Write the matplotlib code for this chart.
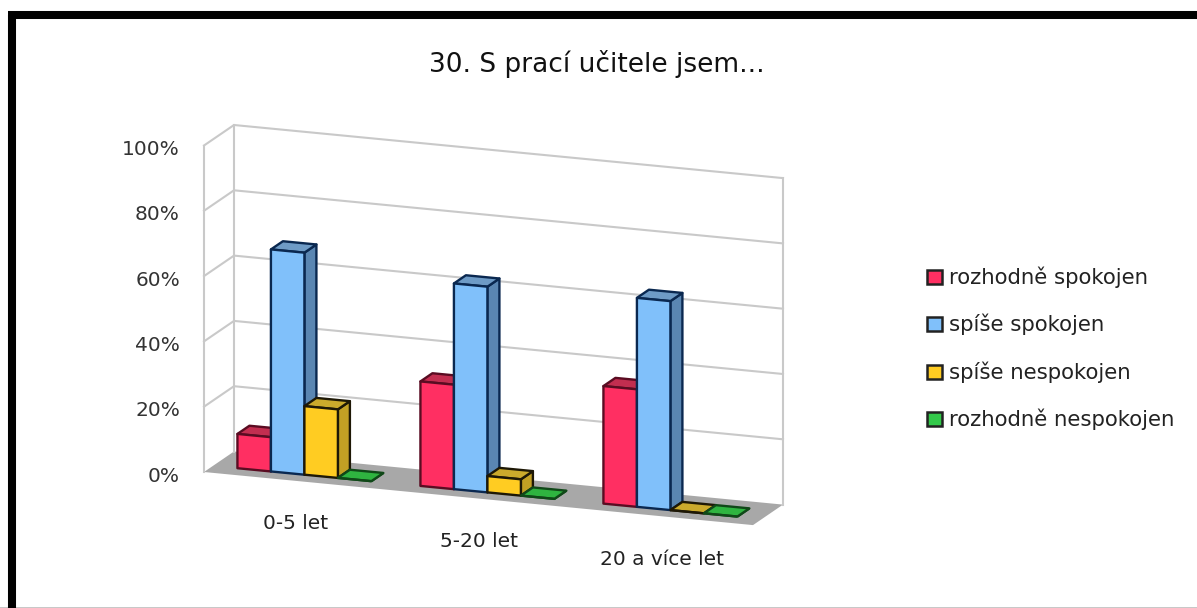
import matplotlib
matplotlib.use('Agg')
import matplotlib.pyplot as plt
from matplotlib.patches import Polygon, Rectangle

title = '30. S prací učitele jsem...'
categories = ['0-5 let', '5-20 let', '20 a více let']
series_names = ['rozhodně spokojen', 'spíše spokojen', 'spíše nespokojen', 'rozhodně nespokojen']
rozhodne_spokojen = [10.5, 32, 36]
spise_spokojen = [68, 63, 64]
spise_nespokojen = [21, 5, 0]
rozhodne_nespokojen = [0, 0, 0]
ticks = [0, 20, 40, 60, 80, 100]

series = [rozhodne_spokojen, spise_spokojen, spise_nespokojen, rozhodne_nespokojen]

# front, side, top
colors = [('#FF2F62', '#C42A4C', '#C22E50'),
          ('#80C0FA', '#5A86B2', '#6E9BC6'),
          ('#FFCC22', '#C2A024', '#CBAA2C'),
          ('#33C94A', '#2FA53C', '#2FB440')]
edges = ['#5A0C22', '#0A2850', '#1E1806', '#104818']


def project(u, d, v):
    # category position u, depth d (0 front, 1 back), value v -> image pixels
    x = 204 + u * 183 + d * 30
    y = 472 + u * 17.7 - d * 20.5 - v * 3.265
    return x, y


fig = plt.figure(figsize=(11.97, 6.08), dpi=100)
ax = fig.add_axes([0, 0, 1, 1])
ax.set_xlim(0, 1197)
ax.set_ylim(608, 0)
ax.axis('off')

# page frame
ax.add_patch(Rectangle((0, 607), 1197, 1, fc='#C8C8C8', ec='none'))
ax.plot([11.5, 11.5], [608, 15], color='black', lw=5.8, solid_capstyle='butt', zorder=1)
ax.plot([7.5, 1197], [15, 15], color='black', lw=5.8, solid_capstyle='butt', zorder=1)

ax.text(597, 64, title, ha='center', va='center', fontsize=19, color='#111111')

# walls and floor
n = len(categories)
grid = '#C9C9C9'
ax.add_patch(Polygon([project(0, 0, 0), project(0, 1, 0), project(n, 1, 0), project(n, 0, 0)],
                     fc='#A8A8A8', ec='none', zorder=2))
for t in ticks:
    pts = [project(0, 0, t), project(0, 1, t), project(n, 1, t)]
    if t > 0:
        ax.plot(*zip(*pts), color=grid, lw=1.5, zorder=2)
    ax.text(180, project(0, 0, t)[1] + 4, f'{t}%', ha='right', va='center',
            fontsize=14.5, color='#333333')
for u, d in [(0, 0), (0, 1), (n, 1)]:
    ax.plot(*zip(project(u, d, 0), project(u, d, 100)), color=grid, lw=1.5, zorder=2)

# bars, left to right inside a group
bar_w = 0.183
margin = 0.1335
d0, d1 = 0.3, 0.7
for c in range(n):
    for s, vals in enumerate(series):
        v = vals[c]
        u0 = c + margin + s * bar_w
        u1 = u0 + bar_w
        front, side, top = colors[s]
        z = 3 + c + s * 0.1
        kw = dict(ec=edges[s], lw=1.7, joinstyle='round', zorder=z)
        ax.add_patch(Polygon([project(u1, d0, 0), project(u1, d1, 0), project(u1, d1, v), project(u1, d0, v)],
                             fc=side, **kw))
        ax.add_patch(Polygon([project(u0, d0, v), project(u0, d1, v), project(u1, d1, v), project(u1, d0, v)],
                             fc=top, **kw))
        ax.add_patch(Polygon([project(u0, d0, 0), project(u1, d0, 0), project(u1, d0, v), project(u0, d0, v)],
                             fc=front, **kw))

# category labels sit under the front edge of the floor
for c, name in enumerate(categories):
    x, y = project(c + 0.5, 0, 0)
    ax.text(x, y + 43, name, ha='center', va='center', fontsize=14.5, color='#222222')

# legend
legend_y = [277, 324, 372, 419]
for name, y, col, edge in zip(series_names, legend_y, colors, edges):
    ax.add_patch(Rectangle((927, y - 7), 15, 14, fc=col[0], ec='#222222', lw=1.8))
    ax.text(949, y, name, ha='left', va='center', fontsize=15.3, color='#222222')

fig.savefig('out.png', dpi=100)
